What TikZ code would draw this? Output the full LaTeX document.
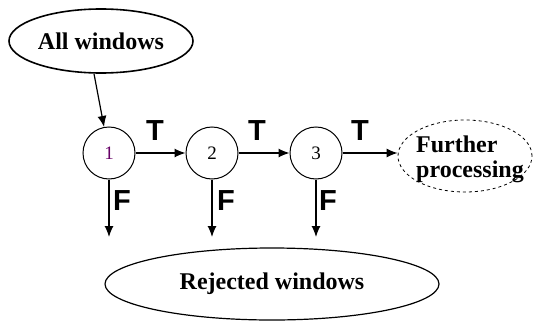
\documentclass[tikz,border=0pt]{standalone}
\usepackage{fontspec}
\setmainfont{Liberation Serif}
\newfontfamily\sansf{Liberation Sans}
\usetikzlibrary{shapes.geometric,arrows.meta}
\begin{document}
\begin{tikzpicture}[x=1pt,y=-1pt,
  arr/.style={line width=1.2pt,-{Latex[length=11pt,width=9pt]}},
  stage/.style={circle,draw,line width=1pt,minimum size=52pt,inner sep=0pt,
    font=\fontsize{19}{20}\selectfont},
  oval/.style={ellipse,draw,inner sep=0pt},
  big/.style={font=\fontsize{24}{25}\selectfont\bfseries},
  lab/.style={font=\sansf\fontsize{29}{30}\selectfont\bfseries,inner sep=0pt}]
\useasboundingbox (0,0) rectangle (534,321);
\node[oval,line width=1.6pt,minimum width=184pt,minimum height=64pt,big] (aw) at (101,41) {All windows};
\node[stage,text=violet!80!black] (c1) at (109,153) {1};
\node[stage] (c2) at (212,153) {2};
\node[stage] (c3) at (316,153) {3};
\node[oval,dashed,line width=0.8pt,minimum width=134pt,minimum height=72pt] (fp) at (465,156) {};
\node[big,align=left,inner sep=0pt] (fpt) at (470,159) {Further\\processing};
\node[oval,line width=1.2pt,minimum width=334pt,minimum height=72pt,big] (rw) at (272,284) {Rejected windows};
\coordinate (f1) at (109,237);
\coordinate (f2) at (212,237);
\coordinate (f3) at (316,237);
\draw[arr] ([xshift=-7pt]aw.south) -- (c1);
\draw[arr] (c1) -- (c2);
\draw[arr] (c2) -- (c3);
\draw[arr] (c3.east) -- (c3.east -| fp.west);
\draw[arr] (c1.south) -- (f1);
\draw[arr] (c2.south) -- (f2);
\draw[arr] (c3.south) -- (f3);
\node[lab] (t1) at (155,131) {T};
\node[lab] (t2) at (257,131) {T};
\node[lab] (t3) at (360,131) {T};
\node[lab] (l1) at (122,201) {F};
\node[lab] (l2) at (226,201) {F};
\node[lab] (l3) at (328,201) {F};
\end{tikzpicture}
\end{document}
